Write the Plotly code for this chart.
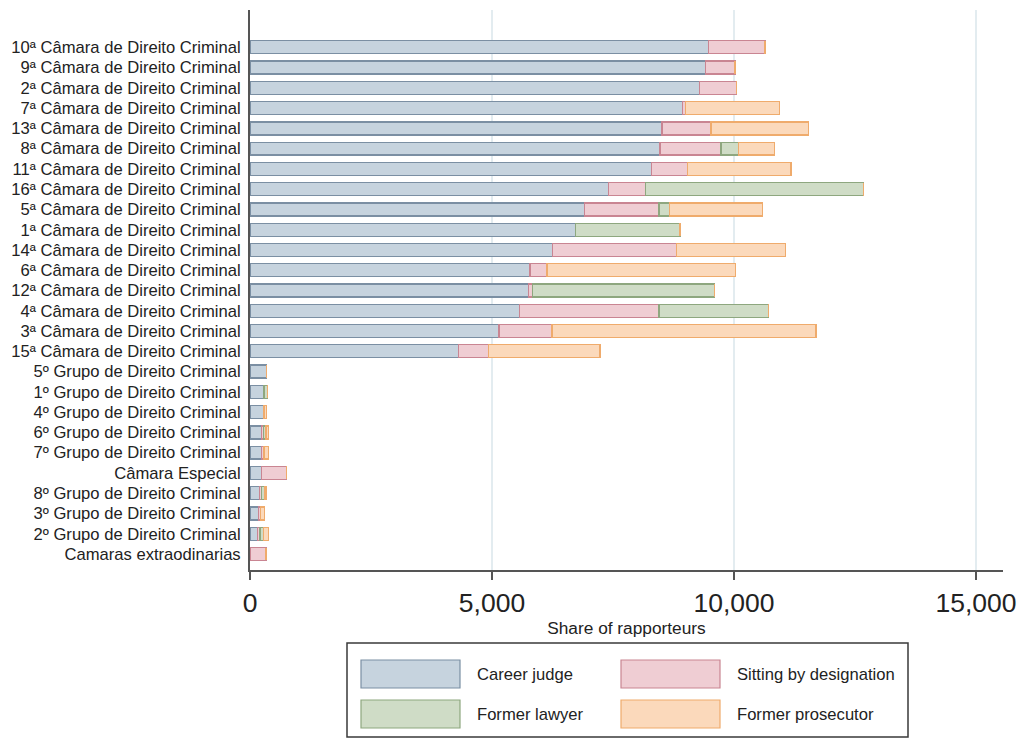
import plotly.graph_objects as go

categories = [
    "10ª Câmara de Direito Criminal",
    "9ª Câmara de Direito Criminal",
    "2ª Câmara de Direito Criminal",
    "7ª Câmara de Direito Criminal",
    "13ª Câmara de Direito Criminal",
    "8ª Câmara de Direito Criminal",
    "11ª Câmara de Direito Criminal",
    "16ª Câmara de Direito Criminal",
    "5ª Câmara de Direito Criminal",
    "1ª Câmara de Direito Criminal",
    "14ª Câmara de Direito Criminal",
    "6ª Câmara de Direito Criminal",
    "12ª Câmara de Direito Criminal",
    "4ª Câmara de Direito Criminal",
    "3ª Câmara de Direito Criminal",
    "15ª Câmara de Direito Criminal",
    "5º Grupo de Direito Criminal",
    "1º Grupo de Direito Criminal",
    "4º Grupo de Direito Criminal",
    "6º Grupo de Direito Criminal",
    "7º Grupo de Direito Criminal",
    "Câmara Especial",
    "8º Grupo de Direito Criminal",
    "3º Grupo de Direito Criminal",
    "2º Grupo de Direito Criminal",
    "Camaras extraodinarias",
]

career_judge = [9480, 9415, 9290, 8940, 8510, 8470, 8300, 7400, 6905, 6730, 6245, 5785, 5750, 5565, 5145, 4305,
                345, 290, 290, 240, 240, 240, 193, 172, 151, 0]
sitting_by_designation = [1160, 605, 760, 55, 1015, 1260, 735, 775, 1545, 0, 2570, 350, 90, 2885, 1095, 620,
                          0, 0, 0, 35, 50, 515, 50, 50, 55, 330]
former_lawyer = [0, 0, 0, 0, 0, 365, 0, 4495, 215, 2155, 0, 0, 3750, 2260, 0, 0,
                 0, 75, 0, 55, 0, 0, 50, 0, 70, 0]
former_prosecutor = [0, 0, 0, 1940, 2010, 745, 2145, 0, 1930, 0, 2245, 3900, 0, 0, 5455, 2305,
                     0, 0, 55, 50, 90, 0, 40, 80, 100, 0]

series_names = ["Career judge", "Sitting by designation", "Former lawyer", "Former prosecutor"]
series_values = [career_judge, sitting_by_designation, former_lawyer, former_prosecutor]
fill_colors = ["#c6d3de", "#efcdd3", "#cfdcc6", "#fbd9bb"]
line_colors = ["#7b8fa3", "#c98592", "#8ea77f", "#efab6c"]

x_ticks = [0, 5000, 10000, 15000]
x_tick_labels = ["0", "5,000", "10,000", "15,000"]

fig = go.Figure()
for name, vals, fc, lc in zip(series_names, series_values, fill_colors, line_colors):
    fig.add_trace(go.Bar(
        y=categories, x=vals, name=name, orientation="h",
        marker=dict(color=fc, line=dict(color=lc, width=1.3)),
        width=0.64, showlegend=False,
    ))

# page is rendered with an 8px body margin; figure placed at (8, 8)
OFF = 8
W, H = 1025 - OFF, 739 - OFF
PL, PR, PT, PB = 250, 1003, 10, 570   # plot area in page pixels
L, R, T, B = PL - OFF, W - (PR - OFF), PT - OFF, H - (PB - OFF)
pw, ph = PR - PL, PB - PT

def px(x):
    return (x - PL) / pw

def py(y):
    return (PB - y) / ph

shapes = [dict(type="rect", xref="paper", yref="paper",
               x0=px(347), x1=px(908), y0=py(737), y1=py(643),
               line=dict(color="#3a3a3a", width=1.5), fillcolor="rgba(0,0,0,0)")]
annotations = []
legend_pos = [(361, 660), (621, 660), (361, 700), (621, 700)]
for name, fc, lc, (sx, sy) in zip(series_names, fill_colors, line_colors, legend_pos):
    shapes.append(dict(type="rect", xref="paper", yref="paper",
                       x0=px(sx), x1=px(sx + 99), y0=py(sy + 28), y1=py(sy),
                       line=dict(color=lc, width=1.2), fillcolor=fc))
    annotations.append(dict(xref="paper", yref="paper", x=px(sx + 114), y=py(sy + 14),
                            text=name, showarrow=False, xanchor="left", yanchor="middle",
                            font=dict(size=16.6, color="#222222")))

fig.update_layout(
    width=W, height=H,
    margin=dict(l=L, r=R, t=T, b=B, autoexpand=False),
    barmode="stack",
    paper_bgcolor="white", plot_bgcolor="white",
    font=dict(family="Arial, Liberation Sans, sans-serif", color="#222222"),
    shapes=shapes, annotations=annotations,
    xaxis=dict(
        range=[0, 15558], tickvals=x_ticks, ticktext=x_tick_labels,
        tickfont=dict(size=26.5, color="#222222"),
        ticks="outside", ticklen=8, tickwidth=2, tickcolor="#555555",
        showline=True, linecolor="#555555", linewidth=2,
        showgrid=True, gridcolor="#e3ecf0", gridwidth=1.5, zeroline=False,
        title=dict(text="Share of rapporteurs", font=dict(size=17.3, color="#222222"), standoff=0),
    ),
    yaxis=dict(
        categoryorder="array", categoryarray=categories,
        range=[25.79, -1.84],
        tickfont=dict(size=16.6, color="#222222"),
        ticks="", ticklabelstandoff=4,
        showline=True, linecolor="#555555", linewidth=2,
        showgrid=False, zeroline=False,
    ),
)

fig.write_html("out.html")
